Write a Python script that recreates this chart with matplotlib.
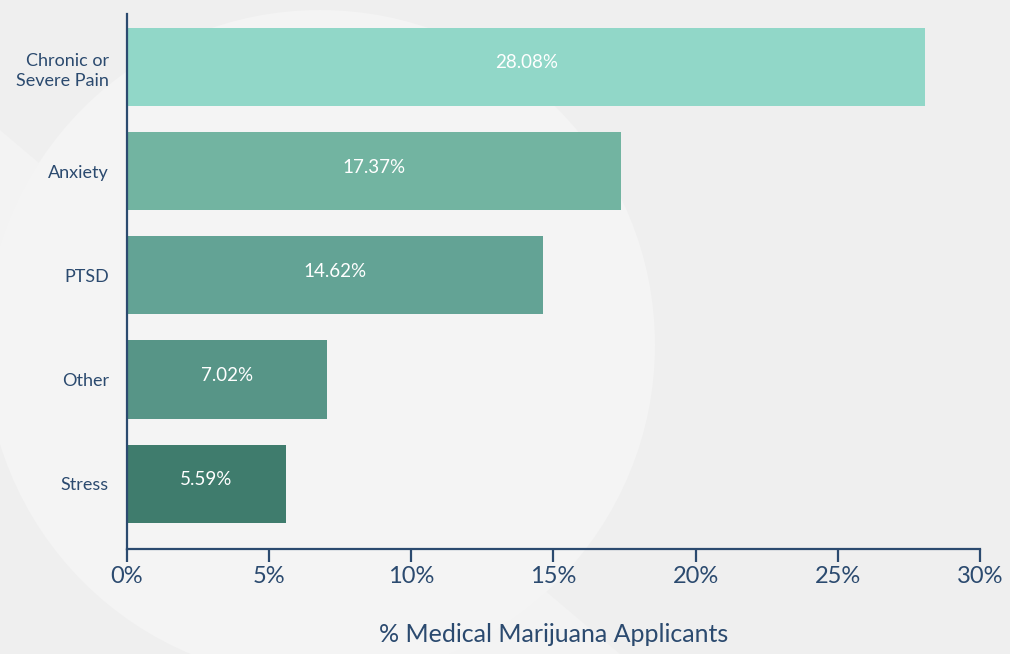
import matplotlib.pyplot as plt
from matplotlib.patches import Circle, Polygon
from matplotlib.ticker import FuncFormatter

conditions = ["Chronic or\nSevere Pain", "Anxiety", "PTSD", "Other", "Stress"]
shares = [28.08, 17.37, 14.62, 7.02, 5.59]
bar_colors = ["#91d7c8", "#72b4a1", "#63a395", "#579587", "#3f7c6d"]
x_ticks = [0, 5, 10, 15, 20, 25, 30]

navy = "#2b4a6f"
plt.rcParams['font.family'] = ['Lato', 'DejaVu Sans']

fig = plt.figure(figsize=(10.1, 6.54), dpi=100, facecolor="#efefef")

# soft background shapes behind the chart
bg = fig.add_axes([0, 0, 1, 1], zorder=0)
bg.set_xlim(0, 1010)
bg.set_ylim(654, 0)
bg.axis("off")
bg.add_patch(Polygon([(0, 130), (0, 330), (420, 654), (620, 654)], closed=True,
                     facecolor="#f3f3f3", edgecolor="none"))
bg.add_patch(Circle((320, 345), 335, facecolor="#f4f4f4", edgecolor="none"))

ax = fig.add_axes([0.1257, 0.1606, 0.8446, 0.818], zorder=1)
ax.patch.set_alpha(0)

y = list(range(len(conditions)))
bars = ax.barh(y, shares, height=0.75, color=bar_colors, edgecolor="none")
for bar, val in zip(bars, shares):
    ax.text(bar.get_width() / 2, bar.get_y() + bar.get_height() / 2 - 0.04,
            f"{val:.2f}%", ha="center", va="center", color="white", fontsize=13.5)

ax.set_xlim(0, 30)
ax.set_ylim(4.628, -0.51)
ax.set_xticks(x_ticks)
ax.xaxis.set_major_formatter(FuncFormatter(lambda v, _: f"{v:.0f}%"))
ax.set_yticks(y)
ax.set_yticklabels(conditions, fontsize=13, color=navy, linespacing=1.35)

for side in ["top", "right"]:
    ax.spines[side].set_visible(False)
for side in ["left", "bottom"]:
    ax.spines[side].set_color(navy)
    ax.spines[side].set_linewidth(1.6)

ax.tick_params(axis="y", length=0, pad=13)
ax.tick_params(axis="x", length=9, width=1.6, color=navy, labelcolor=navy,
               labelsize=17, pad=3)
ax.set_xlabel("% Medical Marijuana Applicants", fontsize=18, color=navy, labelpad=26)

fig.savefig("out.png", dpi=100, facecolor=fig.get_facecolor())
